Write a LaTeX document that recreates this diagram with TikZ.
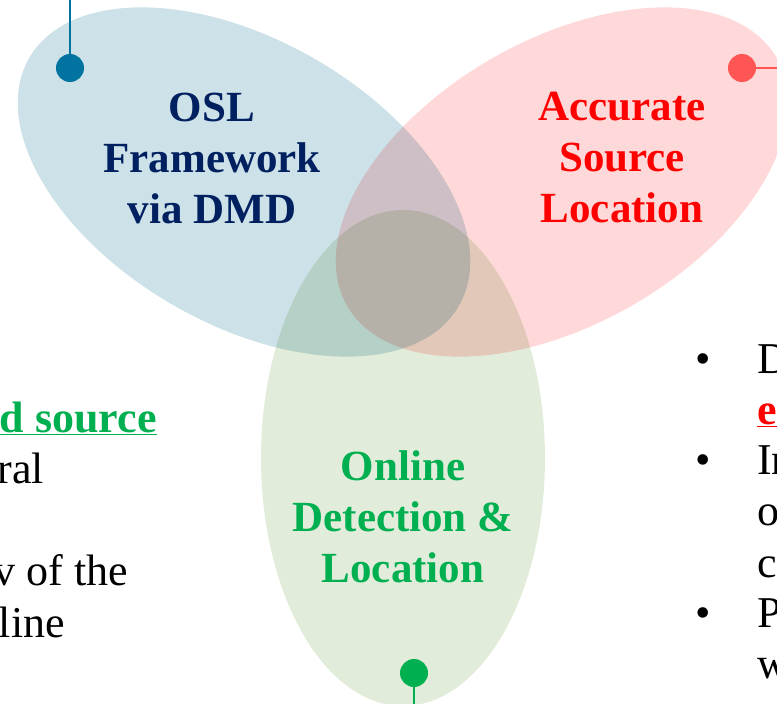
\documentclass[tikz,border=0pt]{standalone}
\usepackage{fontspec}
\setmainfont{Liberation Serif}
\usetikzlibrary{shapes.geometric}

\definecolor{oslfill}{RGB}{205,225,232}
\definecolor{accfill}{RGB}{255,217,217}
\definecolor{onlfill}{RGB}{226,236,218}
\definecolor{oslnavy}{RGB}{0,32,96}
\definecolor{accred}{RGB}{255,0,0}
\definecolor{onlgreen}{RGB}{0,176,80}
\definecolor{oslpin}{RGB}{0,115,160}
\definecolor{accpin}{RGB}{255,85,85}

\tikzset{
  petal/.style={ellipse, minimum width=496pt, minimum height=284pt, inner sep=0pt},
  title/.style={align=center, inner sep=0pt, font=\fontsize{43}{51}\selectfont\bfseries},
  body/.style={inner sep=0pt, font=\fontsize{44}{51}\selectfont},
  pin/.style={circle, minimum size=28pt, inner sep=0pt},
  stem/.style={line width=2.5pt}
}

\begin{document}
\begin{tikzpicture}[x=1pt,y=-1pt]
\useasboundingbox (0,0) rectangle (777,704);
\clip (0,0) rectangle (777,704);

% the three petals
\begin{scope}[blend group=multiply]
\node[petal, fill=oslfill, rotate=-30] (osl) at (244,182) {};
\node[petal, fill=accfill, rotate=30] (acc) at (562,182) {};
\node[petal, fill=onlfill, rotate=90] (onl) at (403,458) {};
\end{scope}

% titles
\node[title, text=oslnavy] (osltext) at (212,158) {OSL\\Framework\\via DMD};
\node[title, text=accred] (acctext) at (622,158) {Accurate\\Source\\Location};
\node[title, text=onlgreen] (onltext) at (403,517) {Online\\Detection \&\\Location};

% pins
\node[pin, fill=oslpin] (oslpin) at (70,68) {};
\coordinate (oslend) at (70,0);
\draw[stem, oslpin] (oslpin) -- (oslend);
\node[pin, fill=accpin] (accpin) at (742,68) {};
\coordinate (accend) at (777,68);
\draw[stem, accpin] (accpin) -- (accend);
\node[pin, fill=onlgreen] (onlpin) at (414,673) {};
\coordinate (onlend) at (414,704);
\draw[stem, onlgreen] (onlpin) -- (onlend);

% left text
\node[body, anchor=base east, text=onlgreen] (l1) at (157,432) {\bfseries\underline{d source}};
\node[body, anchor=base east] (l2) at (44,483) {ral};
\node[body, anchor=base east] (l3) at (128,585) {v of the};
\node[body, anchor=base east] (l4) at (65,637) {line};

% right text
\node[body, anchor=base] (b1) at (703,373) {\textbullet};
\node[body, anchor=base] (b2) at (703,474) {\textbullet};
\node[body, anchor=base] (b3) at (703,627) {\textbullet};
\node[body, anchor=base west] (r1) at (757,373) {D};
\node[body, anchor=base west, text=accred] (r2) at (757,424) {\bfseries\underline{e}};
\node[body, anchor=base west] (r3) at (757,474) {In};
\node[body, anchor=base west] (r4) at (757,525) {o};
\node[body, anchor=base west] (r5) at (757,577) {c};
\node[body, anchor=base west] (r6) at (757,627) {P};
\node[body, anchor=base west] (r7) at (757,678) {w};
\end{tikzpicture}
\end{document}
